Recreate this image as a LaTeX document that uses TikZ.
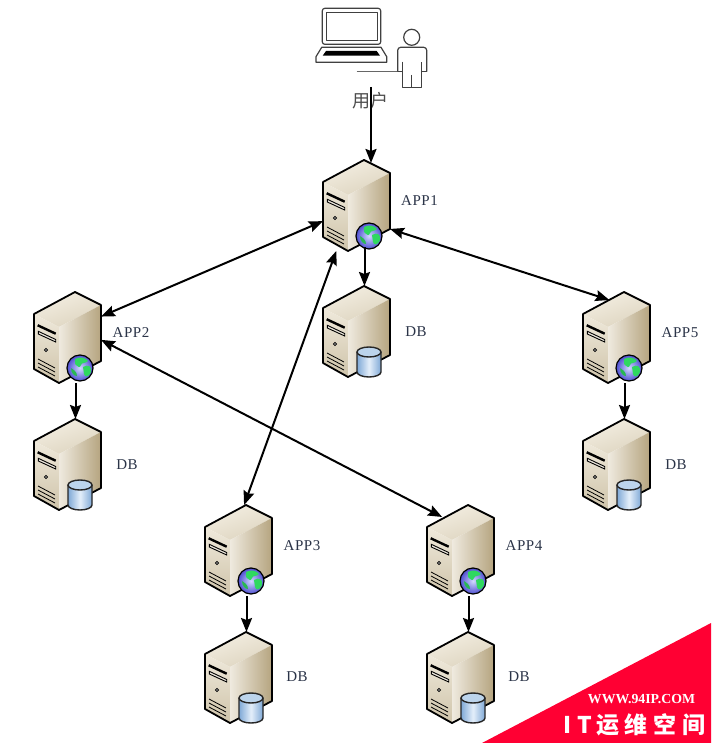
\documentclass[tikz,border=0pt]{standalone}
\usepackage{fontspec}
\setmainfont{Liberation Serif}
\newfontfamily\cjkfont{Noto Sans CJK SC}
\newfontfamily\labelfont[LetterSpace=4]{Liberation Serif}
\usetikzlibrary{arrows.meta,calc}
\definecolor{labelink}{HTML}{2B3448}
\definecolor{wmred}{HTML}{FF0033}
\definecolor{topa}{HTML}{F4EFE3}
\definecolor{topb}{HTML}{DDD4BF}
\definecolor{fronta}{HTML}{EFE9DB}
\definecolor{frontb}{HTML}{CFC4AA}
\definecolor{sidea}{HTML}{EFEADF}
\definecolor{sideb}{HTML}{B5A47F}
\definecolor{globeglow}{HTML}{D2DAFF}
\definecolor{globeblue}{HTML}{4F4FD0}
\definecolor{globegreen}{HTML}{2FD860}
\definecolor{cyledge}{HTML}{7FA8D6}
\definecolor{cylmid}{HTML}{E4EFFA}
\definecolor{cyltop}{HTML}{BCD4EC}
\tikzset{
  link/.style={line width=2pt,{Stealth[length=14pt,width=11pt,inset=2pt]}-{Stealth[length=14pt,width=11pt,inset=2pt]}},
  oneway/.style={line width=2pt,-{Stealth[length=14pt,width=11pt,inset=2pt]}},
  srvbox/.style={minimum width=67pt,minimum height=91pt,inner sep=0pt,outer sep=0pt},
  srvlabel/.style={font=\labelfont\fontsize{15}{17}\selectfont,text=labelink,inner sep=0pt},
  iconline/.style={line width=1.2pt,draw=black!75,line join=round},
  serverbase/.pic={
    \shade[left color=topa,right color=topb,shading angle=20]
      (0,22)--(41,0)--(67,13)--(25,35)--cycle;
    \shade[top color=fronta,bottom color=frontb]
      (0,22)--(25,35)--(25,91)--(0,77)--cycle;
    \shade[left color=sidea,right color=sideb]
      (25,35)--(67,13)--(67,69)--(25,91)--cycle;
    \draw[line width=1.8pt,line join=round] (0,22)--(41,0)--(67,13)--(67,69)--(25,91)--(0,77)--cycle;
    \draw[line width=2.4pt] (3.7,33.3)--(21.7,41.7);
    \draw[line width=0.9pt,fill=white!60!frontb] (4.3,39.3)--(21.7,47.5)--(21.7,50)--(4.3,42)--cycle;
    \draw[line width=0.7pt,fill=white!70!black] (12,58) circle (1.6);
    \foreach \v in {67,71,75}{\draw[line width=0.8pt] (4,\v)--(21,\v+9);}
  },
  globebadge/.pic={
    \shade[inner color=globeglow,outer color=globeblue] (46,76) circle (13);
    \fill[globegreen] (41,67) .. controls (46,64) and (52,66) .. (54,69)
       .. controls (51,72) and (48,70) .. (47,73) .. controls (46,77) and (43,74) .. (41,72) -- cycle;
    \fill[globegreen] (49,75) .. controls (54,72) and (58,74) .. (57,80)
       .. controls (55,85) and (51,86) .. (50,82) -- cycle;
    \fill[globegreen!85!black] (37,76) .. controls (40,78) and (43,80) .. (43,84)
       .. controls (40,84) and (37,81) .. (37,76) -- cycle;
    \draw[line width=1.2pt] (46,76) circle (13);
  },
  dbbadge/.pic={
    \shade[left color=cyledge,right color=cyledge,middle color=cylmid]
      (34,66) -- (34,86) arc[start angle=180,end angle=0,x radius=12,y radius=5] -- (58,66) -- cycle;
    \fill[cyltop] (46,66) ellipse (12 and 5);
    \draw[line width=1.4pt,black!85] (34,66) -- (34,86) arc[start angle=180,end angle=0,x radius=12,y radius=5] -- (58,66);
    \draw[line width=1.4pt,black!85] (46,66) ellipse (12 and 5);
  }
}
\newcommand\srvnode[3]{%
  \pic at (#2,#3) {serverbase};
  \node[srvbox] (#1) at ({#2+33.5},{#3+45.5}) {};
}
\begin{document}
\begin{tikzpicture}[x=1pt,y=-1pt]
\useasboundingbox (0,0) rectangle (711,743);
\fill[white] (0,0) rectangle (711,743);

% user icon
\node[minimum width=112pt,minimum height=79pt,inner sep=0pt,outer sep=0pt] (usr) at (372,47.5) {};
\draw[iconline,rounded corners=2.5pt,fill=white] (322.3,8.3) rectangle (380.7,44.3);
\draw[iconline,line width=0.9pt] (326,12) rectangle (377.3,40.7);
\draw[iconline,fill=white] (321.7,47.3)--(381,47.3)--(386.7,56.7)--(386.7,62.3)--(316,62.3)--(316,56.7)--cycle;
\fill[black] (326,51)--(376.7,51)--(380,55.7)--(322.7,55.7)--cycle;
\draw[line width=1pt,black!60] (356.7,71.7)--(397.7,71.7);
\draw[iconline] (411.7,37.3) circle (8);
\draw[iconline,rounded corners=3pt] (397.7,71.7)--(397.7,47.3)--(426.7,47.3)--(426.7,71.7);
\draw[iconline] (397.7,71.7)--(402.3,71.7) (421.7,71.7)--(426.7,71.7);
\draw[iconline] (402.3,61.7)--(402.3,87.3)--(421.7,87.3)--(421.7,61.7) (411.7,75)--(411.7,87.3);
\node[font=\cjkfont\fontsize{18}{20}\selectfont,text=black!70,inner sep=0pt] (usrlabel) at (370,101) {用户};

% servers
\srvnode{app1}{323}{160}
\pic at (323,160) {globebadge};
\srvnode{db1}{323}{286}
\pic at (323,286) {dbbadge};
\srvnode{app2}{34}{292}
\pic at (34,292) {globebadge};
\srvnode{db2}{34}{419}
\pic at (34,419) {dbbadge};
\srvnode{app3}{205}{505}
\pic at (205,505) {globebadge};
\srvnode{db3}{205}{632}
\pic at (205,632) {dbbadge};
\srvnode{app4}{427}{505}
\pic at (427,505) {globebadge};
\srvnode{db4}{427}{632}
\pic at (427,632) {dbbadge};
\srvnode{app5}{583}{292}
\pic at (583,292) {globebadge};
\srvnode{db5}{583}{419}
\pic at (583,419) {dbbadge};

% labels
\node[srvlabel] (l1) at (419.5,200.5) {APP1};
\node[srvlabel] (l2) at (131,332.5) {APP2};
\node[srvlabel] (l3) at (302,545.5) {APP3};
\node[srvlabel] (l4) at (524,545.5) {APP4};
\node[srvlabel] (l5) at (680,332.5) {APP5};
\node[srvlabel] (d1) at (416,331.5) {DB};
\node[srvlabel] (d2) at (127,464.5) {DB};
\node[srvlabel] (d3) at (297,676.5) {DB};
\node[srvlabel] (d4) at (519,676.5) {DB};
\node[srvlabel] (d5) at (676,464.5) {DB};

% connectors
\draw[oneway,shorten >=-3pt] ($(usr.south)+(-1,0)$) -- ($(app1.north)+(14.5,0)$);
\draw[link] (app1.205.5) -- (app2.32.7);
\draw[link] (app1.246.3) -- (app3.83);
\draw[link,shorten >=-26pt] (app1.-35) -- (app5.125.5);
\draw[link,shorten >=-17pt] (app2.-4.3) -- (app4.129.6);
\draw[oneway] ($(app1.south)+(8,-4)$) -- ($(db1.north)+(8,0)$);
\draw[oneway] ($(app2.south)+(8,0)$) -- ($(db2.north)+(8,0)$);
\draw[oneway] ($(app3.south)+(8,0)$) -- ($(db3.north)+(8,0)$);
\draw[oneway] ($(app4.south)+(8,0)$) -- ($(db4.north)+(8,0)$);
\draw[oneway] ($(app5.south)+(8,0)$) -- ($(db5.north)+(8,0)$);

% watermark
\fill[wmred] (482,743)--(711,623)--(711,743)--cycle;
\node[font=\bfseries\fontsize{13.8}{15}\selectfont,text=white,inner sep=0pt] (wm1) at (641.5,699) {WWW.94IP.COM};
\node[font=\cjkfont\bfseries\fontsize{23}{25}\selectfont,text=white,inner sep=0pt] (wm2) at (634.5,725)
  {I\hspace{6pt}T\hspace{5pt}运\hspace{5pt}维\hspace{6pt}空\hspace{6pt}间};
\end{tikzpicture}
\end{document}
